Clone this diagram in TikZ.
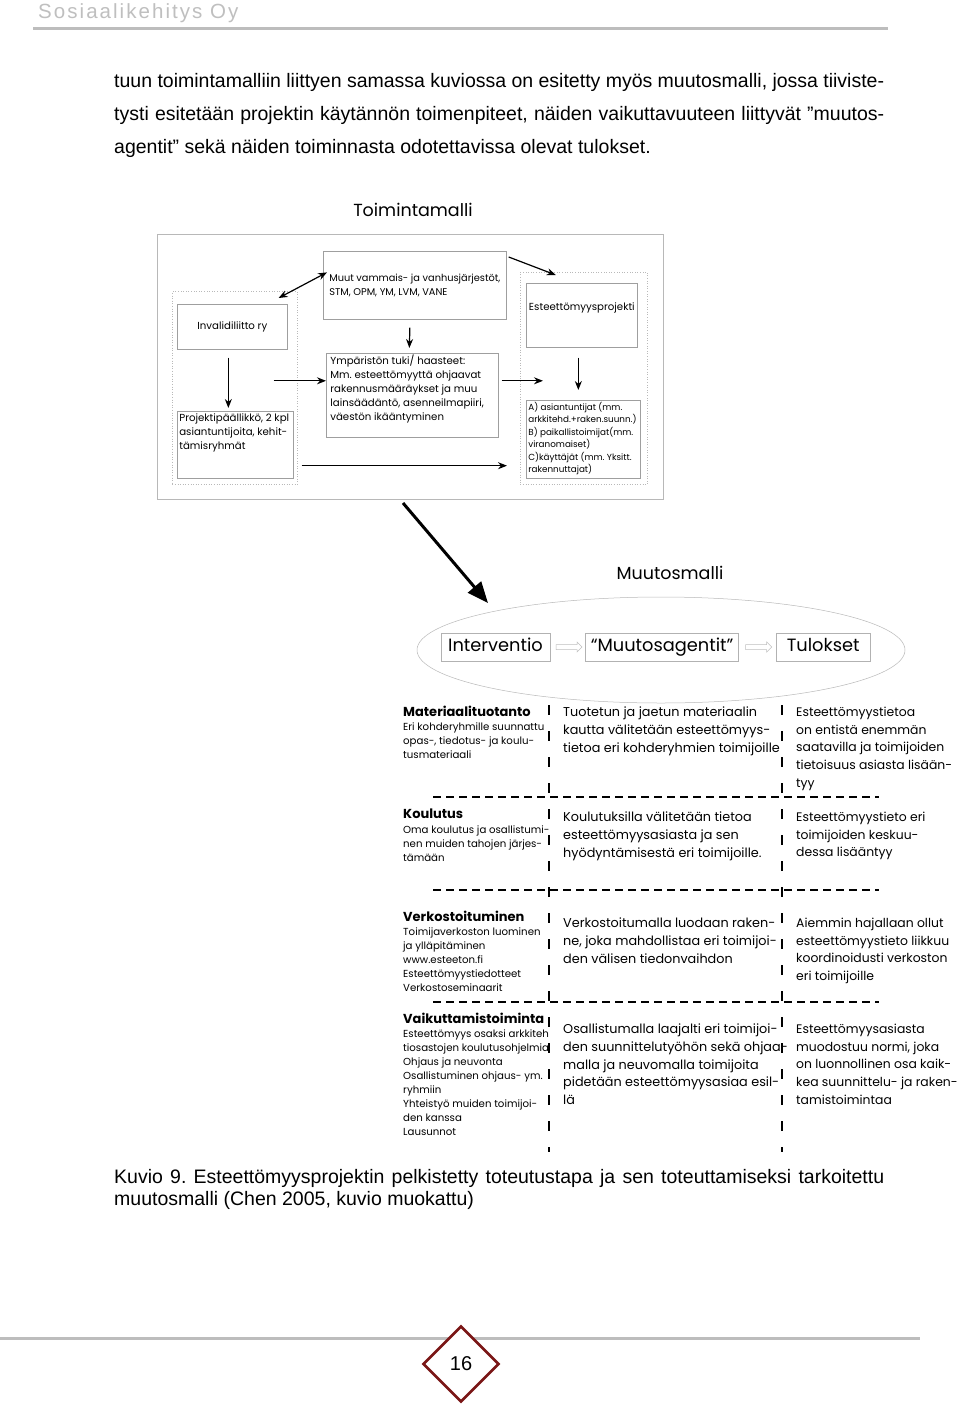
\documentclass[tikz,border=0pt]{standalone}
\usepackage{fontspec}
\setmainfont{Liberation Sans}
\newfontfamily\bodyfont{Liberation Sans}
\newfontfamily\headfont[LetterSpace=10]{Liberation Sans}
\newfontfamily\gothfont{Poppins}
\usetikzlibrary{arrows.meta, positioning, calc, shapes.geometric, shapes.arrows}

\definecolor{framegray}{gray}{0.72}
\definecolor{rulegray}{gray}{0.74}
\definecolor{pagered}{RGB}{122,22,22}

\newcommand{\boxtext}[3]{\parbox[c][#2][t]{#1}{#3}}
\frenchspacing

\tikzset{
    ibox/.style={draw=gray!75, line width=0.7pt, inner sep=2pt, align=left,
        font=\gothfont\fontsize{10.2}{14}\selectfont},
    grpbox/.style={draw=gray!55, dotted, line width=0.6pt, inner sep=0pt},
    arr/.style={-{Stealth[length=9pt, width=7pt]}, line width=1.2pt},
    dbl/.style={{Stealth[length=9pt, width=7pt]}-{Stealth[length=9pt, width=7pt]}, line width=1.2pt},
    bigarr/.style={-{Triangle[length=21pt, width=17pt]}, line width=3pt},
    mbox/.style={draw=gray!60, line width=0.6pt, minimum height=28pt, inner sep=1pt,
        text height=12.5pt, text depth=3.5pt, font=\gothfont\fontsize{17.8}{19}\selectfont},
    hollow/.style={single arrow, draw=gray!50, line width=0.5pt, minimum height=26pt,
        text height=2.5pt, text depth=1pt, inner sep=0.5pt, single arrow head extend=2.5pt},
    title/.style={font=\gothfont\fontsize{17.5}{20}\selectfont, inner sep=0pt},
    head/.style={anchor=north west, inner sep=0pt, font=\gothfont\bfseries\fontsize{13}{14}\selectfont},
    small/.style={anchor=north west, inner sep=0pt, align=left, font=\gothfont\fontsize{10.2}{14}\selectfont},
    cell/.style={anchor=north west, inner sep=0pt, align=left, font=\gothfont\fontsize{12.8}{17.6}\selectfont},
    rcell/.style={cell, font=\gothfont\fontsize{12.4}{17.6}\selectfont},
    vdash/.style={line width=2.6pt, dash pattern=on 10pt off 16pt},
    hdash/.style={line width=1.3pt, dash pattern=on 8pt off 5pt},
    rule/.style={rulegray, line width=3pt},
    body/.style={anchor=base west, inner sep=0pt, font=\bodyfont\fontsize{19.5}{22}\selectfont},
}

\begin{document}
\begin{tikzpicture}[x=1pt, y=-1pt]

    \fill[white] (0,0) rectangle (960,1405);
    \useasboundingbox (0,0) rectangle (960,1405);

    \node[anchor=base west, inner sep=0pt, text=gray!50, font=\headfont\fontsize{20.5}{22}\selectfont] (firm) at (38,19) {Sosiaalikehitys Oy};
    \draw[rule] (33,29) -- (888,29);

    \node[body] (line1) at (114,88) {\makebox[770pt][s]{tuun toimintamalliin liittyen samassa kuviossa on esitetty myös muutosmalli, jossa tiiviste-}};
    \node[body] (line2) at (114,120) {\makebox[770pt][s]{tysti esitetään projektin käytännön toimenpiteet, näiden vaikuttavuuteen liittyvät ”muutos-}};
    \node[body] (line3) at (114,153) {agentit” sekä näiden toiminnasta odotettavissa olevat tulokset.};

    \node[title] (tmtitle) at (413,210) {Toimintamalli};
    \draw[framegray, line width=0.7pt] (157,234) rectangle (663,499);

    \node[ibox, minimum width=183pt, minimum height=68pt, anchor=north west, font=\gothfont\fontsize{9.8}{14}\selectfont] (muut) at (323,251) {Muut vammais- ja vanhusjärjestöt,\\STM, OPM, YM, LVM, VANE};

    \node[grpbox, minimum width=125pt, minimum height=193pt, anchor=north west] (leftgrp) at (172,291) {};
    \node[ibox, minimum width=110pt, minimum height=45pt, anchor=north west] (inval) at (177,304) {Invalidiliitto ry};
    \node[ibox, anchor=north west] (pplk) at (177,411) {\boxtext{112pt}{63pt}{Projektipäällikkö, 2 kpl\\asiantuntijoita, kehit-\\tämisryhmät}};

    \node[grpbox, minimum width=127pt, minimum height=212pt, anchor=north west] (rightgrp) at (520,272) {};
    \node[ibox, minimum width=111pt, minimum height=64pt, text depth=18pt, anchor=north west] (estp) at (526,283) {Esteettömyysprojekti};
    \node[ibox, anchor=north west, font=\gothfont\fontsize{8.8}{12.4}\selectfont] (abox) at (526,400) {\boxtext{110pt}{74pt}{A) asiantuntijat (mm.\\arkkitehd.+raken.suunn.)\\B) paikallistoimijat(mm.\\viranomaiset)\\C)käyttäjät (mm. Yksitt.\\rakennuttajat)}};

    \node[ibox, inner xsep=4pt, anchor=north west] (ymp) at (326,353) {\boxtext{164pt}{80pt}{Ympäristön tuki/ haasteet:\\Mm. esteettömyyttä ohjaavat\\rakennusmääräykset ja muu\\lainsäädäntö, asenneilmapiiri,\\väestön ikääntyminen}};

    \draw[dbl] ([shift={(-19,7)}]leftgrp.north east) -- ([shift={(4,-13)}]muut.west);
    \draw[arr] ([shift={(2,6)}]muut.north east) -- ([shift={(-28,3)}]rightgrp.north);
    \draw[arr] ([shift={(-5,8)}]muut.south) -- ([shift={(-3,-5)}]ymp.north);
    \draw[arr] ([shift={(-4,8)}]inval.south) -- ([shift={(-7,-3)}]pplk.north);
    \draw[arr] ([shift={(-3.5,10)}]estp.south) -- ([shift={(-5,-10)}]abox.north);

    \coordinate (lg) at ([shift={(-24,-7)}]leftgrp.east);
    \draw[arr] (lg) -- (lg -| ymp.west);
    \draw[arr, shorten <=3pt] (lg -| ymp.east) -- ($(lg -| rightgrp.west)+(23,0)$);
    \draw[arr] ($(pplk.south east)+(8,-13)$) -- ($(abox.south west)+(-19,-13)$);

    \coordinate (bigS) at (403,503);
    \coordinate (bigE) at (488,603);
    \draw[bigarr] (bigS) -- (bigE);

    \node[title] (mmtitle) at (670,573) {Muutosmalli};
    \draw[gray!55, line width=0.5pt] (661,650) ellipse [x radius=244, y radius=53];

    \node[mbox, minimum width=109pt] (interv) at (495.5,647) {Interventio};
    \node[mbox, minimum width=153pt, right=35pt of interv] (agent) {“Muutosagentit”};
    \node[mbox, minimum width=94pt, right=37pt of agent] (tulos) {Tulokset};
    \node[hollow] (h1) at ($(interv.east)!0.5!(agent.west)$) {};
    \node[hollow] (h2) at ($(agent.east)!0.5!(tulos.west)$) {};

    \foreach \xx in {549, 782}
        \draw[vdash] (\xx,705) -- (\xx,1152);
    \foreach \yy in {797, 890, 1002}
        \draw[hdash] (433,\yy) -- (879,\yy);

    \node[head] (mat) at (403,705.5) {Materiaalituotanto};
    \node[small, below=6.5pt of mat.south west, anchor=north west] (matx) {Eri kohderyhmille suunnattu\\opas-, tiedotus- ja koulu-\\tusmateriaali};
    \node[cell] (matmid) at (563,707) {Tuotetun ja jaetun materiaalin\\kautta välitetään esteettömyys-\\tietoa eri kohderyhmien toimijoille};
    \node[rcell] (matres) at (796,707) {Esteettömyystietoa\\on entistä enemmän\\saatavilla ja toimijoiden\\tietoisuus asiasta lisään-\\tyy};

    \node[head] (kou) at (403,808.5) {Koulutus};
    \node[small, below=6.5pt of kou.south west, anchor=north west] (koux) {Oma koulutus ja osallistumi-\\nen muiden tahojen järjes-\\tämään};
    \node[cell] (koumid) at (563,812) {Koulutuksilla välitetään tietoa\\esteettömyysasiasta ja sen\\hyödyntämisestä eri toimijoille.};
    \node[rcell] (koures) at (796,812) {Esteettömyystieto eri\\toimijoiden keskuu-\\dessa lisääntyy};

    \node[head] (ver) at (403,910.5) {Verkostoituminen};
    \node[small, below=6.5pt of ver.south west, anchor=north west] (verx) {Toimijaverkoston luominen\\ja ylläpitäminen\\www.esteeton.fi\\Esteettömyystiedotteet\\Verkostoseminaarit};
    \node[cell] (vermid) at (563,918) {Verkostoitumalla luodaan raken-\\ne, joka mahdollistaa eri toimijoi-\\den välisen tiedonvaihdon};
    \node[rcell] (verres) at (796,918) {Aiemmin hajallaan ollut\\esteettömyystieto liikkuu\\koordinoidusti verkoston\\eri toimijoille};

    \node[head] (vai) at (403,1012.5) {Vaikuttamistoiminta};
    \node[small, below=6.5pt of vai.south west, anchor=north west] (vaix) {Esteettömyys osaksi arkkiteh\\tiosastojen koulutusohjelmia\\Ohjaus ja neuvonta\\Osallistuminen ohjaus- ym.\\ryhmiin\\Yhteistyö muiden toimijoi-\\den kanssa\\Lausunnot};
    \node[cell] (vaimid) at (563,1024) {Osallistumalla laajalti eri toimijoi-\\den suunnittelutyöhön sekä ohjaa-\\malla ja neuvomalla toimijoita\\pidetään esteettömyysasiaa esil-\\lä};
    \node[rcell] (vaires) at (796,1024) {Esteettömyysasiasta\\muodostuu normi, joka\\on luonnollinen osa kaik-\\kea suunnittelu- ja raken-\\tamistoimintaa};

    \node[body] (cap1) at (114,1183) {\makebox[770pt][s]{Kuvio 9. Esteettömyysprojektin pelkistetty toteutustapa ja sen toteuttamiseksi tarkoitettu}};
    \node[body] (cap2) at (114,1205) {muutosmalli (Chen 2005, kuvio muokattu)};

    \draw[rule] (0,1338) -- (920,1338);
    \node[diamond, draw=pagered, line width=2.6pt, fill=white, minimum width=76pt, minimum height=76pt, inner sep=0pt, font=\bodyfont\fontsize{20}{22}\selectfont] (pnum) at (461,1364) {16};

\end{tikzpicture}
\end{document}
